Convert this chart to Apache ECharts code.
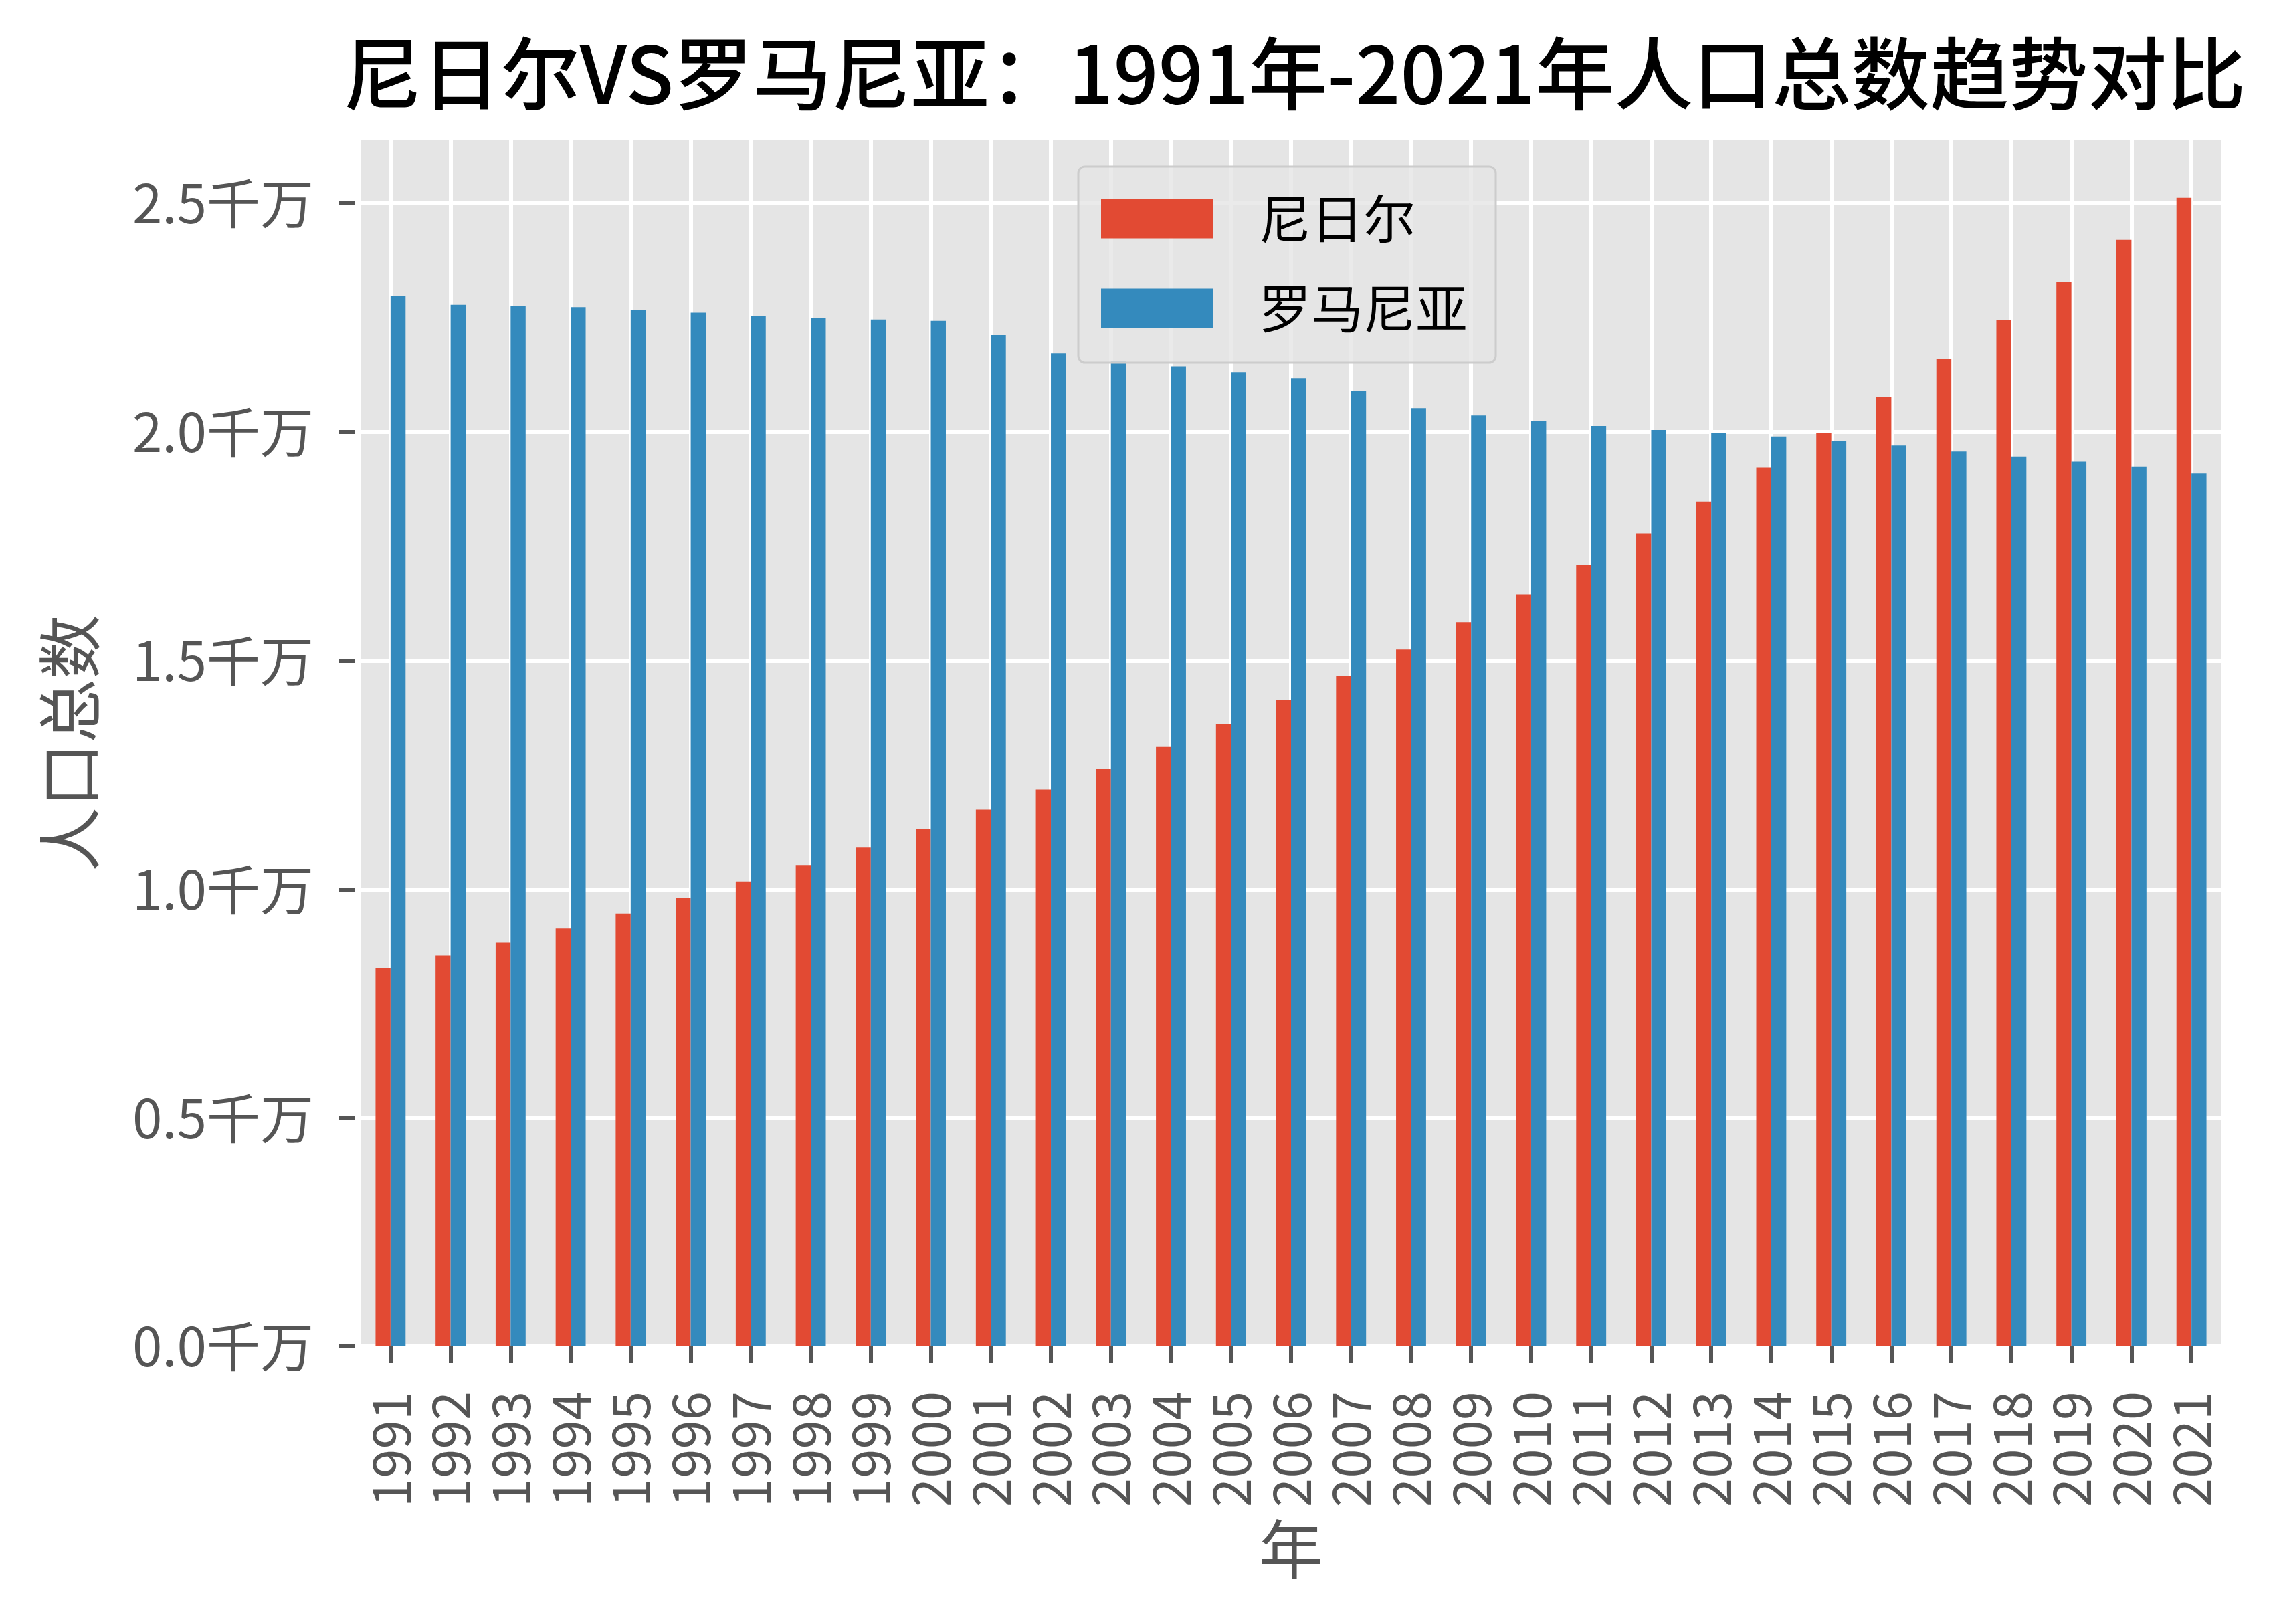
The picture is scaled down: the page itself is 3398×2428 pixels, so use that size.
<!DOCTYPE html>
<html><head><meta charset="utf-8">
<script src="https://cdn.jsdelivr.net/npm/echarts@6/dist/echarts.min.js"></script>
<style>html,body{margin:0;padding:0;background:#fff}#c{width:3398px;height:2428px}</style>
</head><body><div id="c"></div>
<script>
const years = ['1991','1992','1993','1994','1995','1996','1997','1998','1999','2000','2001','2002','2003','2004','2005','2006','2007','2008','2009','2010','2011','2012','2013','2014','2015','2016','2017','2018','2019','2020','2021'];
// 单位：千万
const niger = [0.828,0.855,0.883,0.914,0.947,0.980,1.017,1.053,1.091,1.132,1.174,1.218,1.263,1.311,1.361,1.413,1.467,1.524,1.584,1.645,1.710,1.778,1.848,1.923,1.998,2.077,2.159,2.245,2.329,2.420,2.512];
const romania = [2.298,2.278,2.276,2.273,2.267,2.261,2.253,2.249,2.246,2.243,2.212,2.172,2.156,2.144,2.131,2.118,2.089,2.052,2.036,2.023,2.013,2.004,1.997,1.990,1.980,1.970,1.957,1.946,1.936,1.924,1.910];
const seriesNames = ['尼日尔','罗马尼亚'];
const yMax = 2.639;

const FONT = '"Noto Sans CJK SC", "Noto Sans", sans-serif';
const chart = echarts.init(document.getElementById('c'), null, {renderer:'canvas'});
chart.setOption({
  animation: false,
  backgroundColor: '#ffffff',
  textStyle: {fontFamily: FONT},
  title: {
    text: '尼日尔VS罗马尼亚：1991年-2021年人口总数趋势对比',
    left: 1930, top: 46, textAlign: 'center',
    textStyle: {fontSize: 118, fontWeight: 500, color: '#000', fontFamily: FONT}
  },
  legend: {
    orient: 'vertical', left: 1612, top: 249,
    padding: [39, 42, 42, 34],
    itemWidth: 167, itemHeight: 59, itemGap: 56,
    icon: 'rect',
    backgroundColor: 'rgba(229,229,229,0.8)',
    borderColor: '#cccccc', borderWidth: 3, borderRadius: 10,
    textStyle: {fontSize: 78, color: '#000', fontFamily: FONT, lineHeight: 59, padding: [0,0,0,64]},
    data: seriesNames
  },
  grid: {left: 539, right: 77, top: 209, bottom: 415, show: true, backgroundColor: '#E5E5E5', borderWidth: 0},
  xAxis: {
    type: 'category', data: years, offset: 9,
    axisLine: {show: false},
    axisTick: {show: true, alignWithLabel: true, length: 25, lineStyle: {color: '#555', width: 6}},
    axisLabel: {rotate: 90, fontSize: 78, color: '#555', margin: 58, fontFamily: FONT, interval: 0},
    splitLine: {show: true, alignWithLabel: true, interval: 0, lineStyle: {color: '#fff', width: 6}},
    name: '年', nameLocation: 'middle', nameGap: 246,
    nameTextStyle: {fontSize: 96, color: '#555', fontFamily: FONT}
  },
  yAxis: {
    type: 'value', min: 0, max: yMax, interval: 0.5, offset: 8,
    axisLine: {show: false},
    axisTick: {show: true, length: 24, lineStyle: {color: '#555', width: 6}},
    axisLabel: {fontSize: 80, color: '#555', margin: 62, fontFamily: FONT, showMaxLabel: false,
      formatter: v => (Math.abs(v / 0.5 - Math.round(v / 0.5)) < 1e-6) ? v.toFixed(1) + '千万' : ''},
    splitLine: {show: true, showMaxLine: false, lineStyle: {color: '#fff', width: 6}},
    name: '人口总数', nameLocation: 'middle', nameGap: 379,
    nameTextStyle: {fontSize: 96, color: '#555', fontFamily: FONT}
  },
  series: [
    {name: seriesNames[0], type: 'bar', data: niger, barWidth: '25%', barGap: '0%', itemStyle: {color: '#E24A33'}},
    {name: seriesNames[1], type: 'bar', data: romania, barWidth: '25%', barGap: '0%', itemStyle: {color: '#348ABD'}}
  ]
});
</script></body></html>
